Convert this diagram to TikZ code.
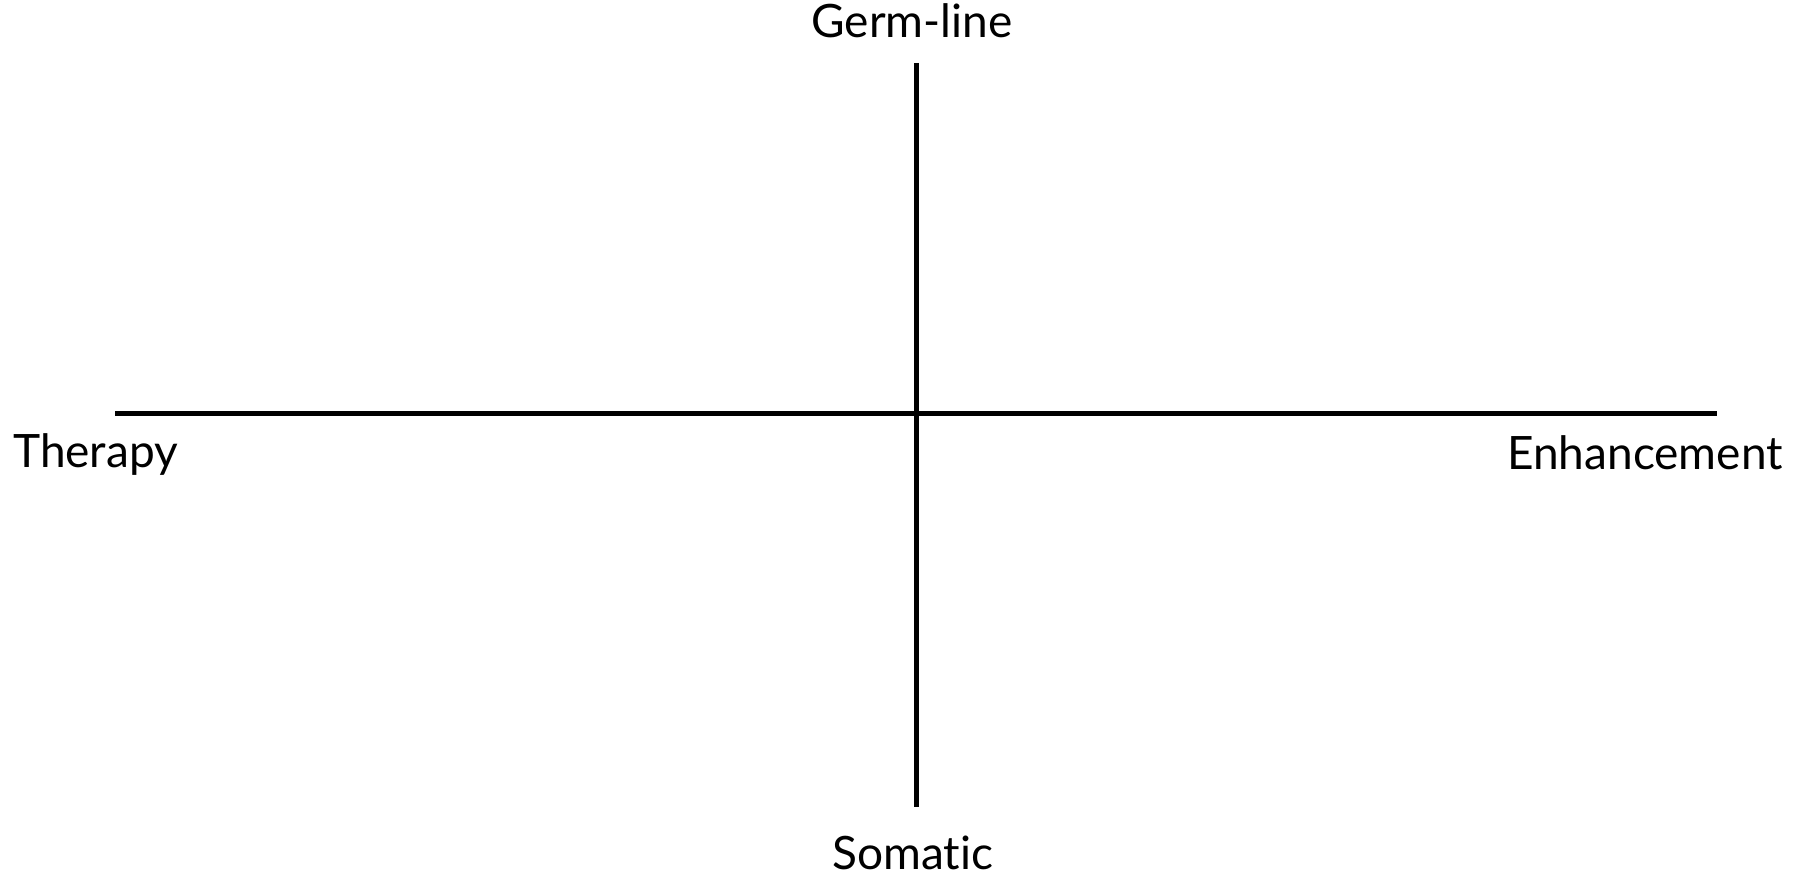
\documentclass[tikz,border=0pt]{standalone}
\usepackage{fontspec}
\setmainfont{Lato}[Ligatures=NoCommon]
\begin{document}
\begin{tikzpicture}[x=1pt,y=1pt,
  axis/.style={line width=5pt},
  lab/.style={inner sep=0pt,font=\fontsize{46}{50}\selectfont}]
\useasboundingbox (0,0) rectangle (1806,878);
\coordinate (L) at (115,464.5);
\coordinate (R) at (1717,464.5);
\coordinate (T) at (916,815);
\coordinate (B) at (916,71);
\draw[axis] (L) -- (R);
\draw[axis] (T) -- (B);
\node[lab,anchor=base] (germ) at (912,840) {Germ-line};
\node[lab,anchor=base west] (ther) at (13,410) {Therapy};
\node[lab,anchor=base east] (enh) at (1783,408) {Enhancement};
\node[lab,anchor=base] (som) at (913,9) {Somatic};
\end{tikzpicture}
\end{document}
